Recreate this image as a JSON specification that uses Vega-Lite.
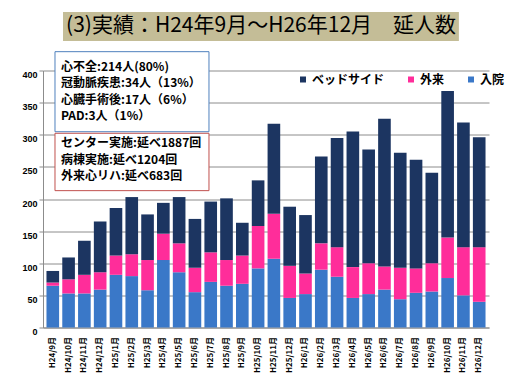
{
  "$schema": "https://vega.github.io/schema/vega-lite/v6.json",
  "width": 446,
  "height": 257,
  "autosize": {"type": "none"},
  "padding": {"left": 43, "top": 70.5, "right": 28, "bottom": 60.5},
  "background": "white",
  "config": {"view": {"stroke": null}, "font": "Noto Sans CJK JP"},
  "layer": [
    {
      "data": {
        "values": [
          {"month": "H24/9月", "series": "入院", "count": 65}, {"month": "H24/9月", "series": "外来", "count": 5}, {"month": "H24/9月", "series": "ベッドサイド", "count": 18},
          {"month": "H24/10月", "series": "入院", "count": 53}, {"month": "H24/10月", "series": "外来", "count": 22}, {"month": "H24/10月", "series": "ベッドサイド", "count": 34},
          {"month": "H24/11月", "series": "入院", "count": 53}, {"month": "H24/11月", "series": "外来", "count": 29}, {"month": "H24/11月", "series": "ベッドサイド", "count": 53},
          {"month": "H24/12月", "series": "入院", "count": 59}, {"month": "H24/12月", "series": "外来", "count": 27}, {"month": "H24/12月", "series": "ベッドサイド", "count": 79},
          {"month": "H25/1月", "series": "入院", "count": 82}, {"month": "H25/1月", "series": "外来", "count": 30}, {"month": "H25/1月", "series": "ベッドサイド", "count": 74},
          {"month": "H25/2月", "series": "入院", "count": 80}, {"month": "H25/2月", "series": "外来", "count": 34}, {"month": "H25/2月", "series": "ベッドサイド", "count": 89},
          {"month": "H25/3月", "series": "入院", "count": 58}, {"month": "H25/3月", "series": "外来", "count": 47}, {"month": "H25/3月", "series": "ベッドサイド", "count": 71},
          {"month": "H25/4月", "series": "入院", "count": 105}, {"month": "H25/4月", "series": "外来", "count": 41}, {"month": "H25/4月", "series": "ベッドサイド", "count": 48},
          {"month": "H25/5月", "series": "入院", "count": 86}, {"month": "H25/5月", "series": "外来", "count": 45}, {"month": "H25/5月", "series": "ベッドサイド", "count": 72},
          {"month": "H25/6月", "series": "入院", "count": 55}, {"month": "H25/6月", "series": "外来", "count": 38}, {"month": "H25/6月", "series": "ベッドサイド", "count": 76},
          {"month": "H25/7月", "series": "入院", "count": 71}, {"month": "H25/7月", "series": "外来", "count": 46}, {"month": "H25/7月", "series": "ベッドサイド", "count": 79},
          {"month": "H25/8月", "series": "入院", "count": 65}, {"month": "H25/8月", "series": "外来", "count": 40}, {"month": "H25/8月", "series": "ベッドサイド", "count": 96},
          {"month": "H25/9月", "series": "入院", "count": 68}, {"month": "H25/9月", "series": "外来", "count": 44}, {"month": "H25/9月", "series": "ベッドサイド", "count": 51},
          {"month": "H25/10月", "series": "入院", "count": 92}, {"month": "H25/10月", "series": "外来", "count": 66}, {"month": "H25/10月", "series": "ベッドサイド", "count": 71},
          {"month": "H25/11月", "series": "入院", "count": 107}, {"month": "H25/11月", "series": "外来", "count": 70}, {"month": "H25/11月", "series": "ベッドサイド", "count": 140},
          {"month": "H25/12月", "series": "入院", "count": 46}, {"month": "H25/12月", "series": "外来", "count": 50}, {"month": "H25/12月", "series": "ベッドサイド", "count": 92},
          {"month": "H26/1月", "series": "入院", "count": 52}, {"month": "H26/1月", "series": "外来", "count": 32}, {"month": "H26/1月", "series": "ベッドサイド", "count": 91},
          {"month": "H26/2月", "series": "入院", "count": 90}, {"month": "H26/2月", "series": "外来", "count": 41}, {"month": "H26/2月", "series": "ベッドサイド", "count": 135},
          {"month": "H26/3月", "series": "入院", "count": 79}, {"month": "H26/3月", "series": "外来", "count": 46}, {"month": "H26/3月", "series": "ベッドサイド", "count": 170},
          {"month": "H26/4月", "series": "入院", "count": 46}, {"month": "H26/4月", "series": "外来", "count": 48}, {"month": "H26/4月", "series": "ベッドサイド", "count": 211},
          {"month": "H26/5月", "series": "入院", "count": 52}, {"month": "H26/5月", "series": "外来", "count": 48}, {"month": "H26/5月", "series": "ベッドサイド", "count": 177},
          {"month": "H26/6月", "series": "入院", "count": 59}, {"month": "H26/6月", "series": "外来", "count": 36}, {"month": "H26/6月", "series": "ベッドサイド", "count": 230},
          {"month": "H26/7月", "series": "入院", "count": 44}, {"month": "H26/7月", "series": "外来", "count": 49}, {"month": "H26/7月", "series": "ベッドサイド", "count": 179},
          {"month": "H26/8月", "series": "入院", "count": 54}, {"month": "H26/8月", "series": "外来", "count": 38}, {"month": "H26/8月", "series": "ベッドサイド", "count": 169},
          {"month": "H26/9月", "series": "入院", "count": 56}, {"month": "H26/9月", "series": "外来", "count": 44}, {"month": "H26/9月", "series": "ベッドサイド", "count": 141},
          {"month": "H26/10月", "series": "入院", "count": 77}, {"month": "H26/10月", "series": "外来", "count": 63}, {"month": "H26/10月", "series": "ベッドサイド", "count": 228},
          {"month": "H26/11月", "series": "入院", "count": 50}, {"month": "H26/11月", "series": "外来", "count": 75}, {"month": "H26/11月", "series": "ベッドサイド", "count": 194},
          {"month": "H26/12月", "series": "入院", "count": 40}, {"month": "H26/12月", "series": "外来", "count": 85}, {"month": "H26/12月", "series": "ベッドサイド", "count": 171}
        ]
      },
      "transform": [{"window": [{"op": "row_number", "as": "rn"}], "groupby": ["month"]}],
      "mark": {"type": "bar", "clip": false},
      "encoding": {
        "x": {
          "field": "month", "type": "nominal", "sort": null,
          "scale": {"paddingInner": 0.2, "paddingOuter": 0.22},
          "axis": {"title": null, "labelAngle": -90, "labelFontSize": 8, "labelFontWeight": "bold", "labelColor": "#000000", "ticks": false, "domainColor": "#8c8c8c", "labelPadding": 9, "labelFont": "Noto Sans CJK JP"}
        },
        "y": {
          "field": "count", "type": "quantitative", "stack": "zero",
          "scale": {"domain": [0, 400], "nice": false},
          "axis": {"title": null, "values": [0, 50, 100, 150, 200, 250, 300, 350, 400], "grid": true, "gridColor": "#8c8c8c", "domainColor": "#8c8c8c", "tickColor": "#8c8c8c", "tickSize": 4, "labelFont": "Liberation Sans", "labelFontSize": 9, "labelFontWeight": "bold", "labelColor": "#000000", "labelPadding": 2, "labelOffset": 4, "labelOverlap": false}
        },
        "color": {
          "field": "series", "type": "nominal",
          "scale": {"domain": ["ベッドサイド", "外来", "入院"], "range": ["#1c3561", "#ff2d9a", "#3a78c8"]},
          "legend": {"title": null, "orient": "none", "legendX": 254, "legendY": 3, "direction": "horizontal", "symbolType": "square", "symbolSize": 36, "symbolStrokeWidth": 0, "labelFontSize": 12, "labelFontWeight": "bold", "labelFont": "Noto Sans CJK JP", "labelColor": "#000000", "columnPadding": 20, "labelOffset": 3, "padding": 0}
        },
        "order": {"field": "rn", "type": "quantitative", "sort": "ascending"}
      }
    },
    {
      "data": {"values": [{}]},
      "layer": [
        {
          "mark": {"type": "rect", "fill": "#C4BD97", "clip": false},
          "encoding": {
            "x": {"datum": 1.256, "type": "quantitative", "scale": {"domain": [0, 28], "nice": false, "zero": false}, "axis": null},
            "x2": {"datum": 26.11},
            "y": {"datum": 491, "type": "quantitative", "scale": {"domain": [0, 400], "nice": false}, "axis": null},
            "y2": {"datum": 446}
          }
        },
        {
          "mark": {"type": "text", "fontSize": 21, "font": "Noto Sans CJK JP", "color": "#000000", "align": "center", "baseline": "middle", "clip": false},
          "encoding": {
            "x": {"datum": 13.69, "type": "quantitative"},
            "y": {"datum": 468.5, "type": "quantitative"},
            "text": {"value": "(3)実績：H24年9月～H26年12月　延人数"}
          }
        },
        {
          "mark": {"type": "rect", "fill": "#ffffff", "stroke": "#4F81BD", "strokeWidth": 1, "clip": false},
          "encoding": {
            "x": {"datum": 0.753, "type": "quantitative"},
            "x2": {"datum": 10.42},
            "y": {"datum": 429.3, "type": "quantitative"},
            "y2": {"datum": 304.7}
          }
        },
        {
          "mark": {"type": "rect", "fill": "#ffffff", "stroke": "#C0504D", "strokeWidth": 1, "clip": false},
          "encoding": {
            "x": {"datum": 0.753, "type": "quantitative"},
            "x2": {"datum": 10.42},
            "y": {"datum": 302.3, "type": "quantitative"},
            "y2": {"datum": 213}
          }
        },
        {
          "mark": {"type": "text", "fontSize": 12, "fontWeight": "bold", "font": "Noto Sans CJK JP", "color": "#000000", "align": "left", "baseline": "middle", "lineHeight": 16.5, "clip": false},
          "encoding": {
            "x": {"datum": 1.13, "type": "quantitative"},
            "y": {"datum": 405.9, "type": "quantitative"},
            "text": {"value": ["心不全:214人(80%)", "冠動脈疾患:34人（13%）", "心臓手術後:17人（6%）", "PAD:3人（1%）"]}
          }
        },
        {
          "mark": {"type": "text", "fontSize": 12, "fontWeight": "bold", "font": "Noto Sans CJK JP", "color": "#000000", "align": "left", "baseline": "middle", "lineHeight": 16.3, "clip": false},
          "encoding": {
            "x": {"datum": 1.13, "type": "quantitative"},
            "y": {"datum": 286.7, "type": "quantitative"},
            "text": {"value": ["センター実施:延べ1887回", "病棟実施:延べ1204回", "外来心リハ:延べ683回"]}
          }
        }
      ]
    }
  ],
  "resolve": {"scale": {"x": "independent"}, "axis": {"y": "independent"}}
}
